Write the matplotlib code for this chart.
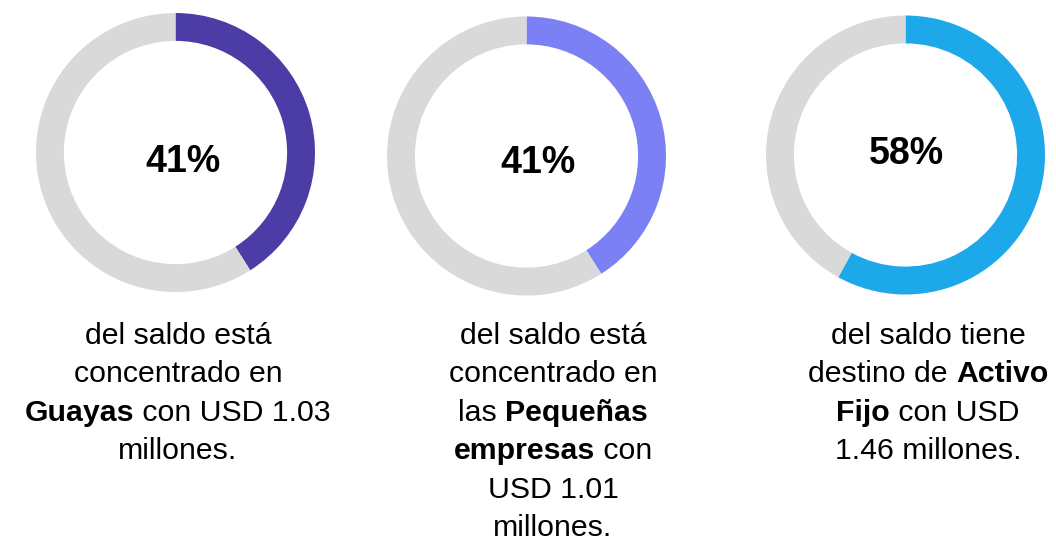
import matplotlib
matplotlib.use('Agg')
import matplotlib.pyplot as plt

plt.rcParams['font.family'] = ['Liberation Sans', 'DejaVu Sans']

W, H = 1056, 541

# share of the balance for each ring (percent)
shares = [41, 41, 58]
ring_colors = ['#4C3DA6', '#7B80F5', '#1DA8EA']
rest_color = '#D9D9D9'

# ring centers / radius in pixels (y from top)
centers = [(175.5, 152.5), (526.5, 156), (905.5, 155)]
radius = 139.5
pct_pos = [(183, 162), (538, 163), (906, 154)]

# caption lines, each a list of (text, bold) pieces
captions = [
    [[('del saldo está', False)],
     [('concentrado en', False)],
     [('Guayas', True), (' con USD 1.03', False)],
     [('millones.', False)]],
    [[('del saldo está', False)],
     [('concentrado en', False)],
     [('las ', False), ('Pequeñas', True)],
     [('empresas', True), (' con', False)],
     [('USD 1.01', False)],
     [('millones.', False)]],
    [[('del saldo tiene', False)],
     [('destino de ', False), ('Activo', True)],
     [('Fijo', True), (' con USD', False)],
     [('1.46 millones.', False)]],
]
caption_x = [178, 553, 928]
first_baseline = 344
line_step = 38.4

fig = plt.figure(figsize=(W / 100, H / 100), dpi=100)
fig.patch.set_facecolor('white')

for (cx, cy), share, col in zip(centers, shares, ring_colors):
    ax = fig.add_axes([(cx - radius) / W, (H - cy - radius) / H,
                       2 * radius / W, 2 * radius / H])
    ax.pie([share, 100 - share], colors=[col, rest_color], startangle=90,
           counterclock=False, radius=1,
           wedgeprops=dict(width=0.2, linewidth=0))
    ax.set_xlim(-1, 1)
    ax.set_ylim(-1, 1)
    ax.axis('off')

for (px, py), share in zip(pct_pos, shares):
    fig.text(px / W, 1 - py / H, f'{share}%', ha='center', va='center',
             fontsize=27, fontweight='bold', color='black')

renderer = fig.canvas.get_renderer()


def draw_line(parts, xc, baseline, size=21.8):
    # draw pieces left to right, then shift so the whole line is centered
    texts = []
    for s, bold in parts:
        t = fig.text(0, 1 - baseline / H, s, ha='left', va='baseline',
                     fontsize=size, fontweight='bold' if bold else 'normal',
                     color='black')
        texts.append(t)
    widths = [t.get_window_extent(renderer).width for t in texts]
    x = xc - sum(widths) / 2
    for t, w in zip(texts, widths):
        t.set_x(x / W)
        x += w


for cap, xc in zip(captions, caption_x):
    for i, parts in enumerate(cap):
        draw_line(parts, xc, first_baseline + i * line_step)

fig.savefig('out.png', dpi=100)
